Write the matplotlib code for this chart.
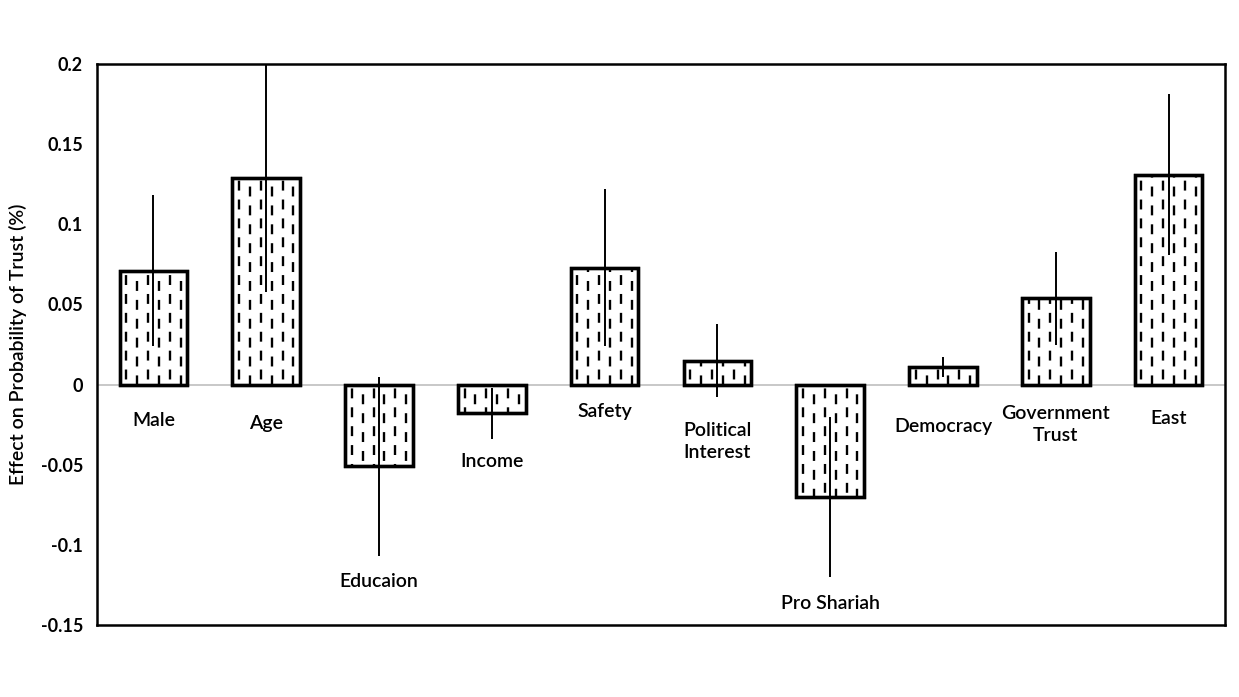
import matplotlib
matplotlib.use("Agg")
import matplotlib.pyplot as plt
import numpy as np
from matplotlib.lines import Line2D

categories = ["Male", "Age", "Educaion", "Income", "Safety", "Political\nInterest",
              "Pro Shariah", "Democracy", "Government\nTrust", "East"]
values = [0.071, 0.129, -0.051, -0.018, 0.073, 0.015, -0.070, 0.011, 0.054, 0.131]
errors = [0.047, 0.071, 0.056, 0.016, 0.049, 0.023, 0.050, 0.0065, 0.029, 0.050]
label_y = [-0.0225, -0.024, -0.123, -0.048, -0.017, -0.0355, -0.1365, -0.026, -0.025, -0.021]
yticks = [-0.15, -0.1, -0.05, 0, 0.05, 0.1, 0.15, 0.2]
ytick_labels = ["-0.15", "-0.1", "-0.05", "0", "0.05", "0.1", "0.15", "0.2"]

plt.rcParams['font.family'] = ['Lato', 'DejaVu Sans']

fig = plt.figure(figsize=(12.39, 6.97), dpi=100)
ax = fig.add_axes([97/1239, 72/697, (1225-97)/1239, (625-64)/697])

x = np.arange(len(categories))
ax.set_xlim(-0.5, len(categories) - 0.5)
ax.set_ylim(-0.15, 0.2)

ax.axhline(0, color="#bfbfbf", lw=1.2, zorder=1)

bars = ax.bar(x, values, width=0.6, facecolor="white", edgecolor="black",
              linewidth=2.4, zorder=2)

# dashed vertical hatch clipped to each bar
for b in bars:
    x0 = b.get_x()
    w = b.get_width()
    for k in range(6):
        xs = x0 + w * (k + 0.6) / 6.2
        off = 0 if k % 2 == 0 else 2.5
        ln = Line2D([xs, xs], [-0.15, 0.2], color="black", lw=1.7,
                    linestyle=(off, (4.2, 3.8)), zorder=3)
        ax.add_line(ln)
        ln.set_clip_path(b)
    ax.add_patch(plt.Rectangle((b.get_x(), b.get_y()), b.get_width(), b.get_height(),
                               fill=False, edgecolor="black", lw=2.4, zorder=4))

ax.errorbar(x, values, yerr=errors, fmt="none", ecolor="black", elinewidth=1.4,
            capsize=0, zorder=5)

for xi, lab, ly in zip(x, categories, label_y):
    ax.text(xi, ly, lab, ha="center", va="center", fontsize=14, color="black",
            linespacing=1.4, fontweight="semibold")

ax.set_xticks([])
ax.set_yticks(yticks)
ax.set_yticklabels(ytick_labels, fontsize=13, fontweight="bold")
ax.tick_params(axis="y", length=0, pad=10)
for s in ax.spines.values():
    s.set_linewidth(1.8)
    s.set_color("black")

ax.set_ylabel("Effect on Probability of Trust (%)", fontsize=14, labelpad=10,
              fontweight="semibold")

fig.savefig("out.png", dpi=100)
